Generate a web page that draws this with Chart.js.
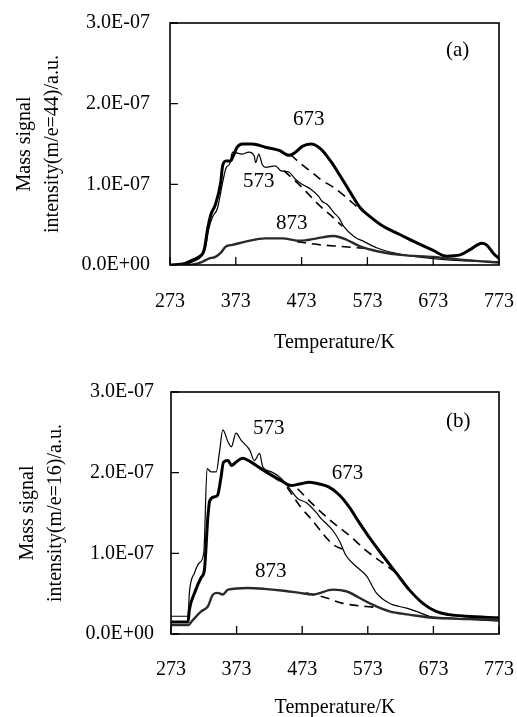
<!DOCTYPE html>
<html>
<head>
<meta charset="utf-8">
<script src="https://cdn.jsdelivr.net/npm/chart.js@4/dist/chart.umd.min.js"></script>
<style>
  html, body { margin:0; padding:0; background:#fff; overflow:hidden; width:517px; height:717px; }
  canvas { position:absolute; left:0; }
  #c1 { top:0; }
  #c2 { top:360px; }
</style>
</head>
<body>
<canvas id="c1" width="517" height="360"></canvas>
<canvas id="c2" width="517" height="362"></canvas>
<script>
// ---- axis ticks ----
const xTicks = [273, 373, 473, 573, 673, 773];
const yTickVals = [0, 1, 2, 3];               // in units of 1E-07
const yTickLabels = ['0.0E+00', '1.0E-07', '2.0E-07', '3.0E-07'];

// ---- panel (a): m/e=44, values in units of 1E-07 ----
const a_T_673 = [273, 296, 307, 317, 325, 330, 335, 342, 350, 353, 358, 365, 370, 375, 383, 398, 418, 439, 454, 464, 474, 487, 502, 517, 532, 547, 562, 577, 597, 623, 649, 673, 693, 714, 729, 747, 754, 764, 773];
const a_V_673 = [0, 0.02, 0.06, 0.10, 0.19, 0.44, 0.62, 0.75, 1.02, 1.23, 1.29, 1.29, 1.37, 1.46, 1.50, 1.50, 1.46, 1.42, 1.36, 1.40, 1.47, 1.50, 1.44, 1.29, 1.10, 0.90, 0.71, 0.60, 0.48, 0.375, 0.27, 0.18, 0.11, 0.125, 0.19, 0.27, 0.25, 0.15, 0.08];
const a_T_673d = [456, 471, 487, 502, 522, 542, 562, 577];
const a_V_673d = [1.37, 1.26, 1.16, 1.06, 0.96, 0.83, 0.69, 0.61];
const a_T_573 = [273, 298, 310, 320, 327, 332, 338, 345, 352, 358, 364, 368, 383, 393, 401, 403, 408, 413, 418, 433, 441, 454, 464, 474, 487, 499, 504, 512, 522, 530, 537, 553, 568, 588, 613, 649, 699, 773];
const a_V_573 = [0, 0.01, 0.05, 0.10, 0.22, 0.45, 0.60, 0.70, 0.98, 1.20, 1.26, 1.40, 1.375, 1.40, 1.35, 1.27, 1.375, 1.25, 1.21, 1.23, 1.17, 1.15, 1.06, 1.0, 0.94, 0.85, 0.79, 0.75, 0.65, 0.58, 0.48, 0.35, 0.29, 0.21, 0.15, 0.10, 0.06, 0.04];
const a_T_573d = [446, 474, 496, 522, 535];
const a_V_573d = [1.17, 0.96, 0.77, 0.58, 0.48];
const a_T_873 = [273, 300, 322, 332, 342, 350, 358, 368, 388, 418, 443, 471, 496, 522, 542, 562, 588, 623, 673, 724, 773];
const a_V_873 = [0, 0, 0.04, 0.08, 0.10, 0.15, 0.23, 0.25, 0.29, 0.33, 0.33, 0.30, 0.33, 0.36, 0.31, 0.23, 0.17, 0.125, 0.10, 0.06, 0.03];
const a_T_873d = [466, 502, 532, 562, 577];
const a_V_873d = [0.29, 0.25, 0.23, 0.21, 0.20];

// ---- panel (b): m/e=16, values in units of 1E-07 ----
const b_T_673 = [273, 299, 301, 309, 319, 324, 329, 332, 339, 344, 349, 353, 360, 365, 372, 382, 395, 410, 426, 441, 456, 469, 484, 499, 514, 530, 545, 560, 575, 596, 616, 636, 657, 677, 697, 723, 773];
const b_V_673 = [0.15, 0.15, 0.30, 0.51, 0.70, 0.80, 1.43, 1.65, 1.70, 1.72, 1.93, 2.13, 2.15, 2.09, 2.13, 2.18, 2.13, 2.05, 1.97, 1.90, 1.84, 1.86, 1.88, 1.86, 1.82, 1.72, 1.57, 1.38, 1.20, 0.97, 0.76, 0.55, 0.38, 0.28, 0.24, 0.22, 0.20];
const b_T_673d = [466, 494, 520, 545, 571, 596, 616];
const b_V_673d = [1.80, 1.57, 1.38, 1.22, 1.03, 0.88, 0.76];
const b_T_573 = [273, 299, 301, 309, 316, 323, 328, 334, 342, 347, 352, 360, 365, 372, 380, 393, 400, 408, 413, 426, 441, 456, 466, 479, 494, 502, 520, 530, 540, 555, 571, 586, 606, 632, 647, 667, 697, 773];
const b_V_573 = [0.22, 0.22, 0.51, 0.76, 0.88, 1.01, 2.05, 2.01, 2.01, 2.26, 2.53, 2.38, 2.32, 2.49, 2.40, 2.28, 2.15, 2.24, 2.07, 2.01, 1.93, 1.78, 1.68, 1.63, 1.51, 1.43, 1.28, 1.15, 0.97, 0.84, 0.72, 0.51, 0.38, 0.32, 0.28, 0.22, 0.20, 0.16];
const b_T_573d = [450, 471, 484, 520, 535];
const b_V_573d = [1.82, 1.57, 1.45, 1.11, 1.05];
const b_T_873 = [273, 299, 306, 319, 329, 337, 344, 352, 360, 390, 415, 441, 469, 489, 520, 540, 560, 581, 606, 636, 672, 773];
const b_V_873 = [0.11, 0.11, 0.17, 0.28, 0.34, 0.49, 0.51, 0.49, 0.55, 0.57, 0.56, 0.54, 0.51, 0.49, 0.55, 0.53, 0.45, 0.36, 0.28, 0.24, 0.20, 0.18];
const b_T_873d = [479, 509, 535, 571, 586];
const b_V_873d = [0.51, 0.45, 0.38, 0.34, 0.33];

// ---- in-plot labels (data coordinates) ----
const a_labels = ['673', '573', '873', '(a)'];
const a_labelT = [484, 408, 458, 710];
const a_labelV = [1.81, 1.03, 0.51, 2.66];
const b_labels = ['573', '673', '873', '(b)'];
const b_labelT = [422, 542, 425, 711];
const b_labelV = [2.55, 1.99, 0.78, 2.64];

const FONT = 'Liberation Serif, Times New Roman, serif';

function pts(T, V) { return T.map((t, i) => ({x: t, y: V[i]})); }

function ds(T, V, kind) {
  const base = { data: pts(T, V), pointRadius: 0, fill: false, cubicInterpolationMode: 'monotone', borderCapStyle: 'round', borderJoinStyle: 'round' };
  if (kind === 'thick') return Object.assign(base, { borderColor: '#000', borderWidth: 3 });
  if (kind === 'thin') return Object.assign(base, { borderColor: '#000', borderWidth: 1.2 });
  if (kind === 'mid') return Object.assign(base, { borderColor: '#2a2a2a', borderWidth: 2.4 });
  return Object.assign(base, { borderColor: '#000', borderWidth: 1.6, borderDash: [9, 6], borderCapStyle: 'butt' });
}

function zeroPad(s) { s.paddingLeft = 0; s.paddingRight = 0; s.paddingTop = 0; s.paddingBottom = 0; }

const framePlugin = {
  id: 'frame',
  afterDatasetsDraw(chart, args, opts) {
    const {ctx, chartArea: ca, scales} = chart;
    ctx.save();
    ctx.strokeStyle = '#000';
    ctx.lineWidth = 1.6;
    ctx.strokeRect(ca.left, ca.top, ca.right - ca.left, ca.bottom - ca.top);
    ctx.lineWidth = 1.3;
    ctx.beginPath();
    xTicks.forEach(v => {
      const px = scales.x.getPixelForValue(v);
      ctx.moveTo(px, ca.bottom); ctx.lineTo(px, ca.bottom - 8);
    });
    yTickVals.forEach(v => {
      const py = scales.y.getPixelForValue(v);
      ctx.moveTo(ca.left, py); ctx.lineTo(ca.left + 8, py);
    });
    ctx.stroke();
    ctx.fillStyle = '#000';
    ctx.font = '21px ' + FONT;
    ctx.textAlign = 'center';
    ctx.textBaseline = 'middle';
    opts.labels.forEach((t, i) => {
      ctx.fillText(t, scales.x.getPixelForValue(opts.T[i]), scales.y.getPixelForValue(opts.V[i]));
    });
    ctx.restore();
  }
};

function makeChart(id, cfg) {
  return new Chart(document.getElementById(id), {
    type: 'line',
    data: { datasets: cfg.datasets },
    plugins: [framePlugin],
    options: {
      responsive: false,
      animation: false,
      events: [],
      layout: { padding: { left: 0, right: 18, top: cfg.top, bottom: 0 } },
      plugins: {
        legend: { display: false },
        tooltip: { enabled: false },
        frame: { labels: cfg.labels, T: cfg.labelT, V: cfg.labelV }
      },
      scales: {
        x: {
          type: 'linear', min: 273, max: 773,
          afterBuildTicks: s => { s.ticks = xTicks.map(v => ({value: v})); },
          afterFit: s => { s.height = cfg.xh; zeroPad(s); },
          grid: { display: false, drawTicks: false },
          border: { display: false },
          ticks: { color: '#000', font: { family: FONT, size: 20 }, padding: cfg.xpad, maxRotation: 0, autoSkip: false, callback: v => String(v) },
          title: { display: true, text: 'Temperature/K', color: '#000', font: { family: FONT, size: 20, lineHeight: 1.2 }, padding: { top: 0, bottom: cfg.tb } }
        },
        y: {
          type: 'linear', min: 0, max: 3,
          afterBuildTicks: s => { s.ticks = yTickVals.map(v => ({value: v})); },
          afterFit: s => { s.width = cfg.yw; zeroPad(s); },
          grid: { display: false, drawTicks: false },
          border: { display: false },
          ticks: { color: '#000', font: { family: FONT, size: 20 }, padding: cfg.ypad, callback: v => yTickLabels[yTickVals.indexOf(v)] },
          title: { display: true, text: ['Mass signal', cfg.ytitle], color: '#000', font: { family: FONT, size: 20, lineHeight: 1.4 }, padding: { top: cfg.ytp, bottom: 0 } }
        }
      }
    }
  });
}

makeChart('c1', {
  top: 23, xh: 95, yw: 170, xpad: 25, ypad: 20, tb: 5, ytp: 11,
  ytitle: 'intensity(m/e=44)/a.u.',
  labels: a_labels, labelT: a_labelT, labelV: a_labelV,
  datasets: [
    ds(a_T_873, a_V_873, 'mid'),
    ds(a_T_873d, a_V_873d, 'dash'),
    ds(a_T_573, a_V_573, 'thin'),
    ds(a_T_573d, a_V_573d, 'dash'),
    ds(a_T_673, a_V_673, 'thick'),
    ds(a_T_673d, a_V_673d, 'dash')
  ]
});

makeChart('c2', {
  top: 32, xh: 88, yw: 171, xpad: 24, ypad: 17, tb: 2, ytp: 14,
  ytitle: 'intensity(m/e=16)/a.u.',
  labels: b_labels, labelT: b_labelT, labelV: b_labelV,
  datasets: [
    ds(b_T_873, b_V_873, 'mid'),
    ds(b_T_873d, b_V_873d, 'dash'),
    ds(b_T_573, b_V_573, 'thin'),
    ds(b_T_573d, b_V_573d, 'dash'),
    ds(b_T_673, b_V_673, 'thick'),
    ds(b_T_673d, b_V_673d, 'dash')
  ]
});
</script>
</body>
</html>
